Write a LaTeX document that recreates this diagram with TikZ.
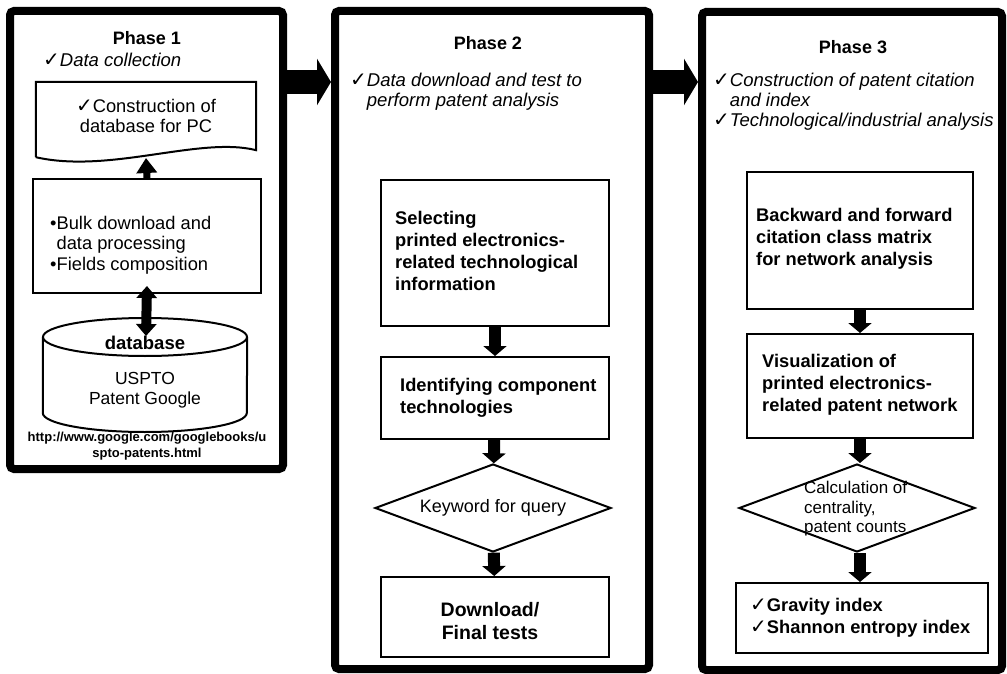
\documentclass[tikz,border=0pt]{standalone}
\usepackage{fontspec}
\setmainfont{Liberation Sans}
\newfontfamily\symfont{DejaVu Sans}
\usetikzlibrary{arrows.meta}
\usetikzlibrary{shapes.geometric}
\usetikzlibrary{positioning}
\newcommand{\chk}{{\symfont\fontsize{20}{16}\selectfont ✓}}
\tikzset{
  phase/.style={draw, line width=8pt, rounded corners=4pt, inner sep=0pt},
  stepbox/.style={draw, line width=2pt, inner sep=0pt},
  decision/.style={draw, diamond, line width=2pt, inner sep=0pt},
  title/.style={inner sep=0pt, font=\bfseries\fontsize{18}{21}\selectfont},
  note/.style={inner sep=0pt, align=left, font=\itshape\fontsize{18.5}{20}\selectfont},
  plain/.style={inner sep=0pt, align=left, font=\fontsize{18.3}{20.5}\selectfont},
  heavy/.style={inner sep=0pt, align=left, font=\bfseries\fontsize{18.3}{22}\selectfont},
  small/.style={inner sep=0pt, align=left, font=\fontsize{17}{19.5}\selectfont},
  bigarrow/.style={line width=24pt, -{Triangle[width=46pt,length=14pt]}},
  flow/.style={line width=12pt, -{Triangle[width=23pt,length=10pt]}},
}
\begin{document}
\begin{tikzpicture}[x=1pt,y=-1pt]
  \useasboundingbox (0,0) rectangle (1007,674);
  % the three phases
  \node[phase, minimum width=273pt, minimum height=458pt] (p1) at (146.5,240) {};
  \node[phase, minimum width=314pt, minimum height=658pt] (p2) at (492,340) {};
  \node[phase, minimum width=300pt, minimum height=658pt] (p3) at (852,341) {};
  \draw[bigarrow] (p1.east |- 0,82) -- (p2.west |- 0,82);
  \draw[bigarrow] (p2.east |- 0,82) -- (p3.west |- 0,82);

  % Phase 1
  \node[title] (t1) at (147,38) {Phase 1};
  \node[note, anchor=west] (n1) at (43,60) {\chk Data collection};
  \node[plain, align=center, minimum width=220pt, minimum height=68pt] (doc) at (146,116) {\chk Construction of\\database for PC};
  \draw[line width=2pt] ([yshift=-7pt]doc.south west) -- (doc.north west) -- (doc.north east) -- (doc.south east)
       .. controls (200,136) and (110,174) .. ([yshift=-7pt]doc.south west);
  \coordinate (docb) at (146,158);
  \node[stepbox, minimum width=228pt, minimum height=114pt] (bulk) at (147,236) {};
  \node[plain, anchor=west] (bulkt) at (50,245) {•Bulk download and\\\phantom{•}data processing\\•Fields composition};
  \draw[line width=7pt, -{Triangle[width=20pt,length=15pt]}] (bulk.north) -- (docb);
  % database
  \node[minimum width=204pt, minimum height=114pt, inner sep=0pt] (db) at (145,375) {};
  \draw[line width=2pt] (145,337) ellipse [x radius=102pt, y radius=19pt];
  \draw[line width=2pt] (db.west |- 0,337) -- (db.west |- 0,413)
       arc[start angle=180, end angle=360, x radius=102pt, y radius=19pt] -- (db.east |- 0,337);
  \node[inner sep=0pt, font=\bfseries\fontsize{18.5}{20}\selectfont] (dbt) at (145,343) {database};
  \node[plain, align=center, font=\fontsize{17.5}{20}\selectfont] (dbs) at (145,390) {USPTO\\Patent Google};
  \coordinate (dbtop) at (146,336);
  \draw[line width=10pt, {Triangle[width=20pt,length=12pt]}-{Triangle[width=20pt,length=12pt]}] ([yshift=8pt]bulk.south) -- (dbtop);
  \node[inner sep=0pt, align=center, font=\bfseries\fontsize{13}{16}\selectfont] (url) at (147,446)
       {http://www.google.com/googlebooks/u\\spto-patents.html};

  % Phase 2
  \node[title] (t2) at (488,43) {Phase 2};
  \node[note, anchor=west] (n2) at (350,92) {\chk Data download and test to\\\phantom{\chk}perform patent analysis};
  \node[stepbox, minimum width=228pt, minimum height=146pt] (sel) at (495,253) {};
  \node[heavy, anchor=west] (selt) at (395,251) {Selecting\\printed electronics-\\related technological\\information};
  \node[stepbox, minimum width=228pt, minimum height=82pt] (ident) at (495,398) {};
  \node[heavy, anchor=west] (identt) at (400,398) {Identifying component\\technologies};
  \node[decision, minimum width=236pt, minimum height=88pt] (kw) at (493,508) {};
  \node[small, font=\fontsize{18}{20}\selectfont] (kwt) at (kw.center) {Keyword for query};
  \node[stepbox, minimum width=228pt, minimum height=80pt] (dl) at (495,617) {};
  \node[heavy, align=center, font=\bfseries\fontsize{19.5}{23}\selectfont] (dlt) at (490,621) {Download/\\Final tests};
  \draw[flow] (sel) -- (ident);
  \draw[flow] (ident) -- (kw);
  \draw[flow] (kw) -- (dl);

  % Phase 3
  \node[title] (t3) at (853,47) {Phase 3};
  \node[note, anchor=west] (n3) at (713,102) {\chk Construction of patent citation\\\phantom{\chk}and index\\\chk Technological/industrial analysis};
  \node[stepbox, minimum width=226pt, minimum height=137pt] (bw) at (860,240.5) {};
  \node[heavy, anchor=west] (bwt) at (756,239) {Backward and forward\\citation class matrix\\for network analysis};
  \node[stepbox, minimum width=226pt, minimum height=104pt] (vis) at (860,386) {};
  \node[heavy, anchor=west] (vist) at (762,385) {Visualization of\\printed electronics-\\related patent network};
  \node[decision, minimum width=236pt, minimum height=88pt] (cent) at (857,508) {};
  \node[small, anchor=west] (centt) at (804,509) {Calculation of\\centrality,\\patent counts};
  \node[stepbox, minimum width=252pt, minimum height=70pt] (idx) at (862,618) {};
  \node[heavy, anchor=west] (idxt) at (750,618) {\chk Gravity index\\\chk Shannon entropy index};
  \draw[flow] (bw) -- (vis);
  \draw[flow] (vis) -- (vis |- cent.north);
  \draw[flow] (vis |- cent.south) -- (vis |- idx.north);
\end{tikzpicture}
\end{document}
